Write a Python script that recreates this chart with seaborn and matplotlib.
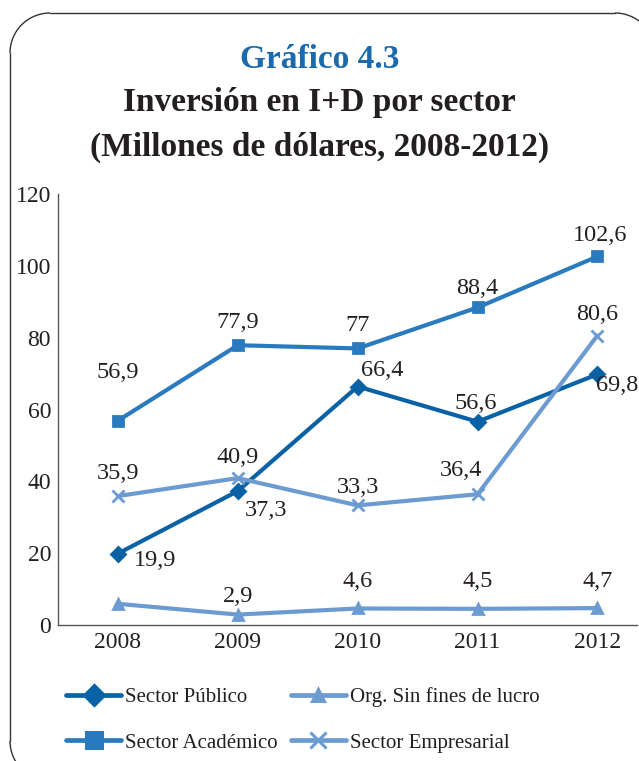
import matplotlib
matplotlib.use("Agg")
import matplotlib.pyplot as plt
import seaborn as sns
import pandas as pd
from matplotlib.patches import Arc
from matplotlib.transforms import IdentityTransform
from matplotlib.lines import Line2D

years = [2008, 2009, 2010, 2011, 2012]
publico = [19.9, 37.3, 66.4, 56.6, 69.8]
org = [5.9, 2.9, 4.6, 4.5, 4.7]
academico = [56.9, 77.9, 77.0, 88.4, 102.6]
empresarial = [35.9, 40.9, 33.3, 36.4, 80.6]
series_names = ["Sector Público", "Org. Sin fines de lucro", "Sector Académico", "Sector Empresarial"]
yticks = [0, 20, 40, 60, 80, 100, 120]

def fmt(v):
    s = ("%.1f" % v).rstrip("0").rstrip(".")
    return s.replace(".", ",")

sns.set_theme(style="white")
plt.rcParams['font.family'] = ['Liberation Serif', 'DejaVu Serif']
TXT = "#231f20"
FS = 17

fig = plt.figure(figsize=(6.39, 7.61), dpi=100)
ax = fig.add_axes([58/639, 1-625/761, (637-58)/639, (625-194)/761])

c_pub = "#0a62a6"
c_aca = "#2a7abf"
c_light = "#6b9bd1"

df = pd.DataFrame({"year": years * 4,
                   "value": publico + org + academico + empresarial,
                   "series": sum([[n] * 5 for n in series_names], [])})

styles = {
    "Sector Público": dict(color=c_pub, marker="D", ms=7),
    "Org. Sin fines de lucro": dict(color=c_light, marker="^", ms=7),
    "Sector Académico": dict(color=c_aca, marker="s", ms=7.5),
    "Sector Empresarial": dict(color=c_light, marker="x", ms=8.5),
}
for name in series_names:
    st = styles[name]
    sub = df[df.series == name]
    sns.lineplot(data=sub, x="year", y="value", ax=ax, color=st["color"], lw=3.0,
                 marker=st["marker"], markersize=st["ms"], markeredgecolor=st["color"],
                 markerfacecolor=st["color"], mew=2.0, legend=False)

PX = 0.72  # points per pixel

def lab(x, y, dxp, dyp):
    ax.annotate(fmt(y), (x, y), xytext=(dxp * PX, dyp * PX), textcoords="offset points",
                ha="center", va="center", fontsize=17.5, color=TXT)

pub_off = [(37, -7), (28, -19), (24, 16), (-2, 18), (20, -11)]
aca_off = [(0, 48), (0, 23), (0, 23), (0, 19), (3, 21)]
emp_off = [(0, 23), (0, 21), (0, 18), (-17, 24), (0, 21)]
org_off = [None, (0, 18), (0, 27), (0, 27), (0, 27)]
for vals, offs in [(publico, pub_off), (academico, aca_off), (empresarial, emp_off), (org, org_off)]:
    for x, y, o in zip(years, vals, offs):
        if o is not None:
            lab(x, y, o[0], o[1])

ax.set_xlim(2007.5, 2012.33)
ax.set_ylim(0, 120)
ax.set_xticks(years)
ax.set_yticks(yticks)
ax.set_xticklabels([str(y) for y in years], fontsize=FS, color=TXT)
ax.set_yticklabels([str(t) for t in yticks], fontsize=FS, color=TXT)
ax.tick_params(axis="both", length=0)
ax.tick_params(axis="y", pad=5)
ax.tick_params(axis="x", pad=5)
ax.set_xlabel("")
ax.set_ylabel("")
for s in ["top", "right"]:
    ax.spines[s].set_visible(False)
for s in ["left", "bottom"]:
    ax.spines[s].set_color("#555555")
    ax.spines[s].set_linewidth(1.0)
ax.patch.set_alpha(0)

# Titles
fig.text(0.5, 1-60/761, "Gráfico 4.3", ha="center", va="center", fontsize=24,
         fontweight="bold", color="#1a6aad")
fig.text(0.5, 1-103/761, "Inversión en I+D por sector", ha="center", va="center",
         fontsize=24, fontweight="bold", color=TXT)
fig.text(0.5, 1-147/761, "(Millones de dólares, 2008-2012)", ha="center", va="center",
         fontsize=24, fontweight="bold", color=TXT)

# Legend
leg_ms = {"D": 10, "^": 9, "s": 11, "x": 11}
handles = [Line2D([], [], color=styles[n]["color"], lw=3.4, marker=styles[n]["marker"],
                  markersize=leg_ms[styles[n]["marker"]], mew=2.2,
                  markerfacecolor=styles[n]["color"],
                  markeredgecolor=styles[n]["color"]) for n in series_names]
order = [0, 2, 1, 3]
leg = fig.legend([handles[i] for i in order], [series_names[i] for i in order],
                 ncol=2, loc="center left", bbox_to_anchor=(66/639, 1-720/761),
                 frameon=False, fontsize=15, handlelength=2.65, handletextpad=0.2,
                 columnspacing=0.6, labelspacing=1.25, borderaxespad=0, borderpad=0)
for t in leg.get_texts():
    t.set_color(TXT)

# Rounded border (pixel coordinates, origin bottom-left)
ID = IdentityTransform()
bc = "#333333"
R = 40
left, top, right, bottom = 10, 748, 655, -20
for (cx, cy, t1, t2) in [(left + R, top - R, 90, 180), (right - R, top - R, 0, 90),
                         (left + R, bottom + R, 180, 270)]:
    fig.add_artist(Arc((cx, cy), 2 * R, 2 * R, theta1=t1, theta2=t2, transform=ID,
                       color=bc, lw=1.0))
fig.add_artist(Line2D([left + R, right - R], [top, top], transform=ID, color=bc, lw=1.0))
fig.add_artist(Line2D([left, left], [bottom + R, top - R], transform=ID, color=bc, lw=1.0))

fig.savefig("out.png", dpi=100)
